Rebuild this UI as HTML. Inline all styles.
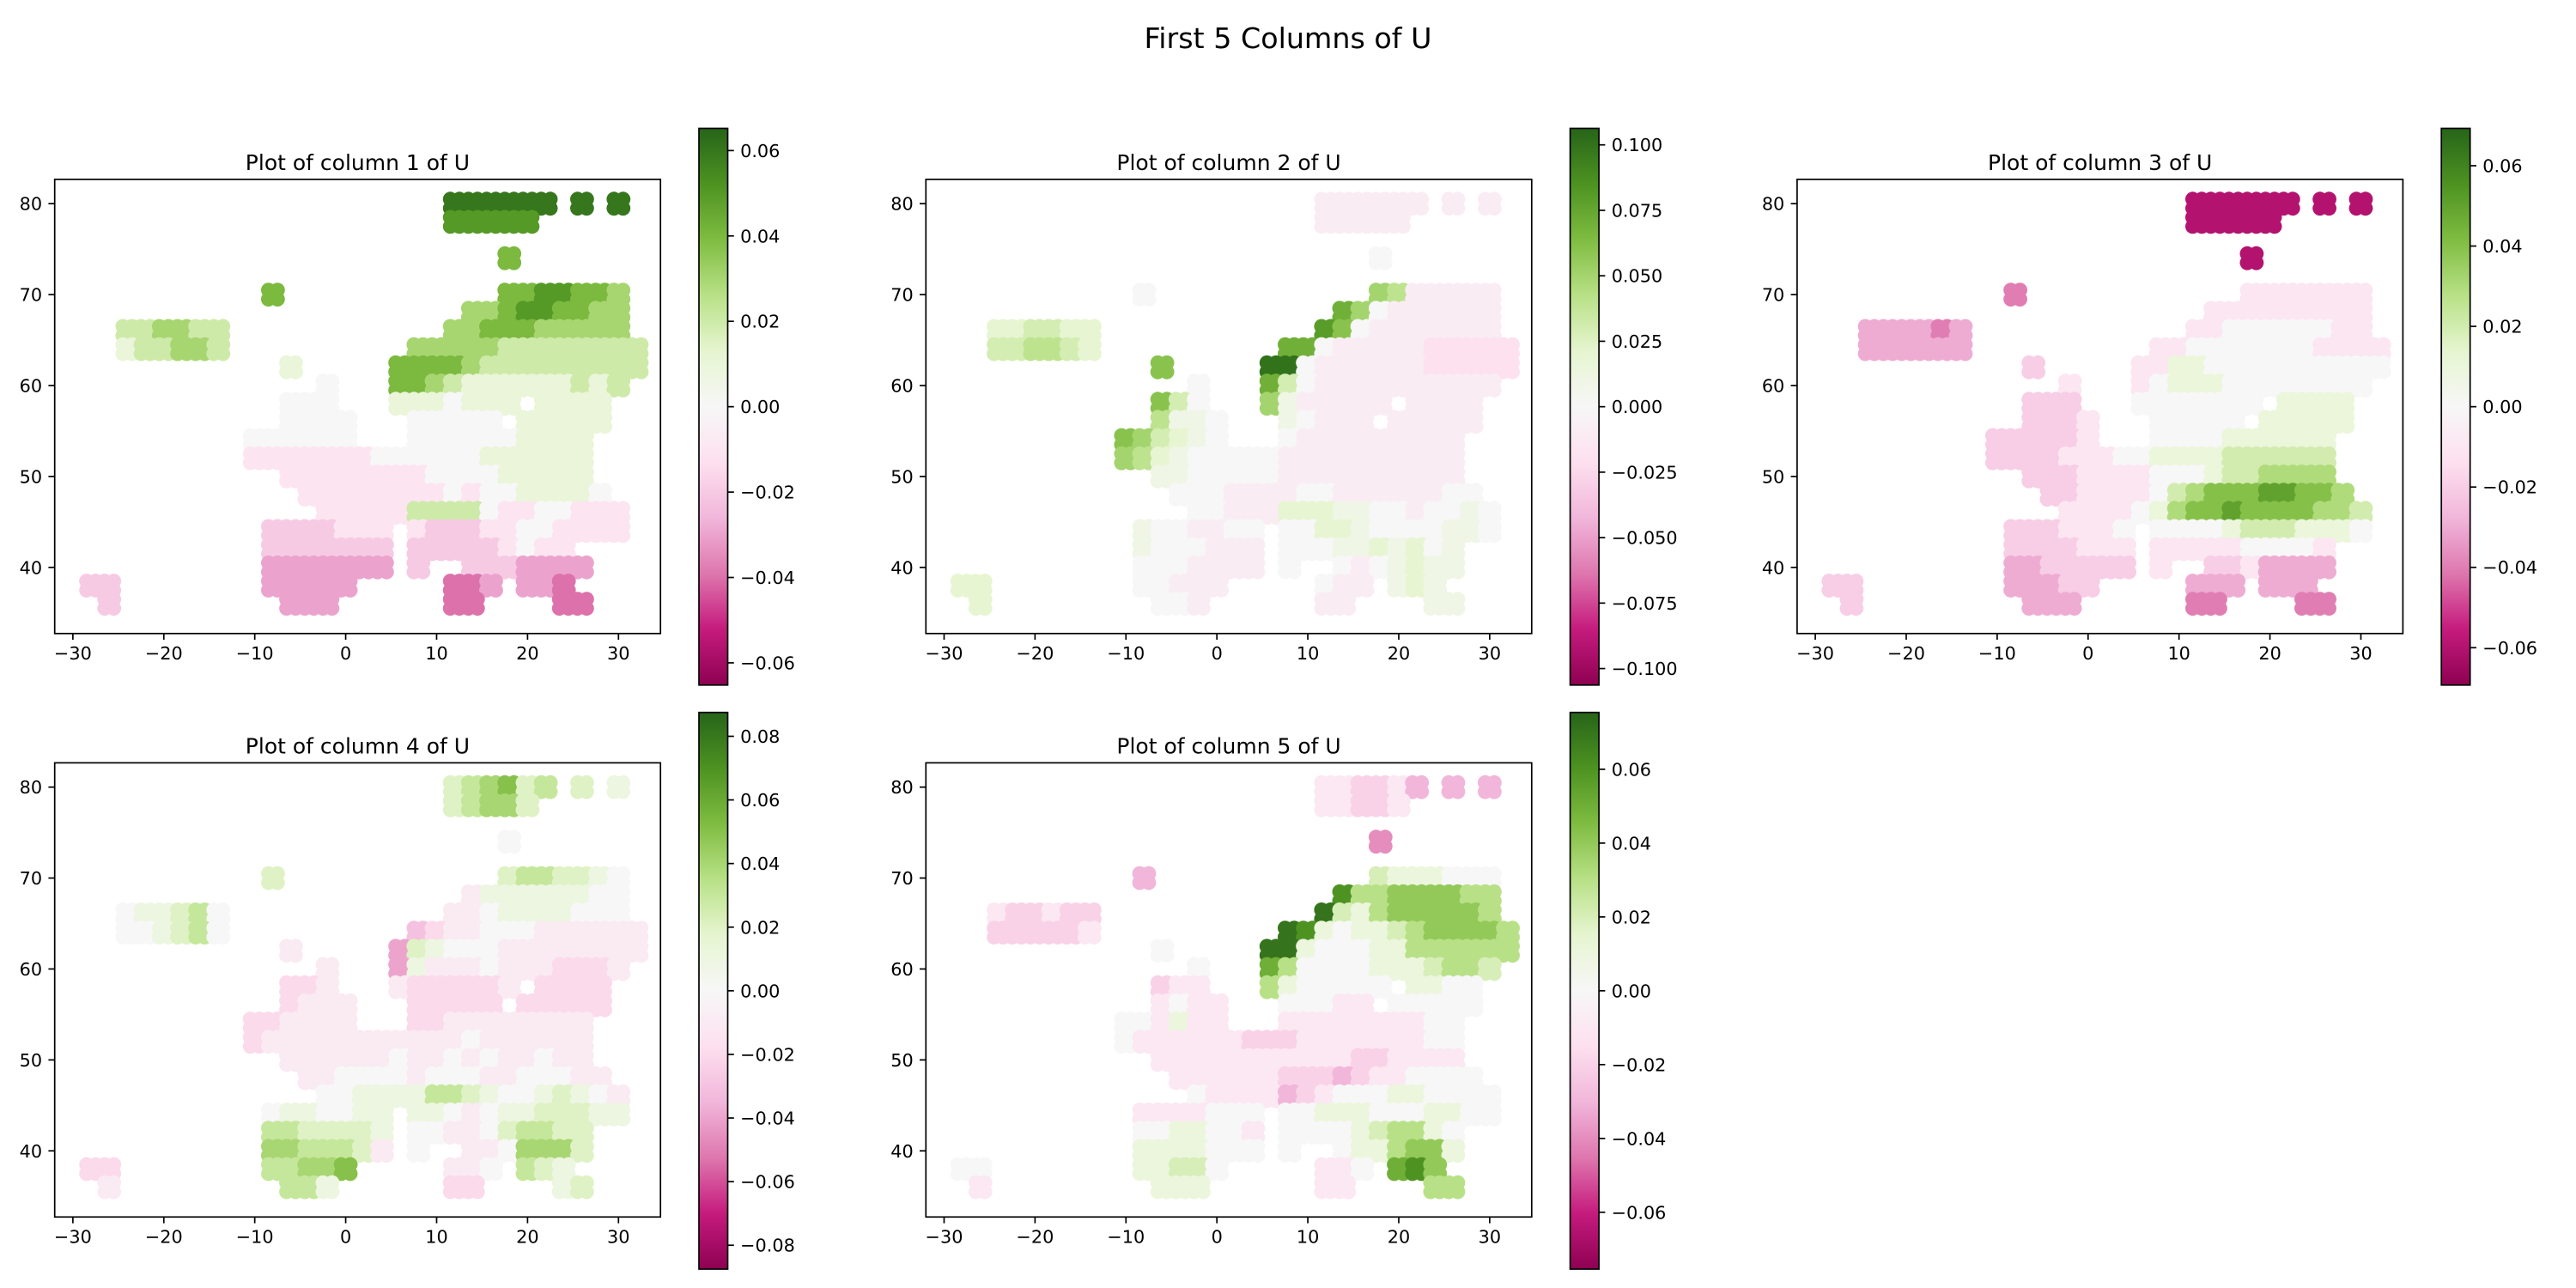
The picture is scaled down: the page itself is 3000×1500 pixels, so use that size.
<!DOCTYPE html>
<html><head><meta charset="utf-8"><title>First 5 Columns of U</title>
<style>
html,body{margin:0;padding:0;background:#fff;}
svg{display:block;font-family:"DejaVu Sans","Liberation Sans",sans-serif;}
</style></head>
<body>
<svg id="fig" xmlns="http://www.w3.org/2000/svg" width="3000" height="1500" viewBox="0 0 3000 1500">
<rect width="3000" height="1500" fill="#fff"/>
<text x="1500" y="56" font-size="33.3" text-anchor="middle" fill="#000">First 5 Columns of U</text>
</svg>
<script>
// ---- data ----
const lats = [80,78,76,74,72,70,68,66,64,62,60,58,56,54,52,50,48,46,44,42,40,38,36];
const lons = [-30,-28,-26,-24,-22,-20,-18,-16,-14,-12,-10,-8,-6,-4,-2,0,2,4,6,8,10,12,14,16,18,20,22,24,26,28,30,32];
// value code: letter 'k' = 0, each letter step = 0.01 ('a' = -0.10, 'u' = +0.10), '.' = no data
const col1Grid = [
".....................qqqqqq.q.q.",
".....................ppppp......",
"................................",
"........................o.......",
"................................",
"...........o............ooppoon.",
"......................nnoppoonn.",
"...mmnnmm............nnooonnnnn.",
"...lmmnnm..........nnnnnmmmmmmmm",
"............l.....oooonmmmmmmmmm",
"..............k...oonmllllllmlm.",
"............kkk...lllklll.llll..",
"............kkkk...kkkkk.lllll..",
"..........kkkkkk...kkkkkkllll...",
"..........jjjjjjjkkkkkkllllll...",
"............jjjjjjjjkkkklllll...",
".............jjjjjjjjkjkkllllk..",
"..............jjjjjmmmmkjjkkjjj.",
"...........iiiijjj.jiiijjkkjjjj.",
"...........iiiiiii.iiiiijkjj...",
"...........hhhhhhh.i..iiihhhh...",
".ii........hhhhh.....ggh.hhg....",
"..i.........hhh......gg....gg..."
];
const col2Grid = [
".....................jjjjjj.j.j.",
".....................jjjjj......",
"................................",
"........................k.......",
"................................",
"...........k............pojjjjj.",
"......................rpkjjjjjj.",
"...mmnnmm............sqkjjjjjjj.",
"...nnoonm..........rrkjjjjjiiiii",
"............q.....uukjjjjjjiiiii",
"..............k...rnkjjjjjjjjjj.",
"............qnk...pljjjjj.jjjj..",
"............ollk...lkjjj.jjjjj..",
"..........qpnmlk...kjjjjjjjjj...",
"..........pomlkkkkkjjjjjjjjjj...",
"............llkkkkkjjjjjjjjjj...",
".............kkkjjjjkkjjjjjjkk..",
"..............kkjjjmmmllkkjkklk.",
"...........lkkjjkk.kkmmlkkkkllk.",
"...........lkkkjjj.kkkllmlmkl...",
"...........kkkjjjj.k..kjklmll...",
".mm........kkjjj.....kjj.lml....",
"..m.........kkj......jj....ll..."
];
const col3Grid = [
".....................eeeeee.e.e.",
".....................eeeee......",
"................................",
"........................e.......",
"................................",
"...........g............jjjjjjj.",
"......................jjjjjjjjj.",
"...hhhhgh............jjkkkkkkjj.",
"...hhhhhh..........jjkkkkkkkjjjj",
"............i.....jjllkkkkkkkkkk",
"..............j...jklllkkkkkkkk.",
"............iii...kkkkkkk.llll..",
"............iiij...kkkkk.lllll..",
"..........iiiiij...kkkkllllll...",
"..........iiiijjjkkllllmmmmmm...",
"............iiijjjjkkklmmnnnn...",
".............iijjjjkmnoooppoon..",
"..............jjjjklnoopoooonnm.",
"...........iiijjjk.kkkklmmmlllk.",
"...........iiiijjj.jjjjjkkkkj...",
"...........hhiiiii.j..iijhhhh...",
".ii........hhhii.....hhh.hhh....",
"..i.........hhh......gg....gg..."
];
const col4Grid = [
".....................mnopmn.m.l.",
".....................mnoom......",
"................................",
"........................k.......",
"................................",
"...........m............mnnmmlk.",
"......................jllllllkk.",
"...kllmnk............jjkllllkkk.",
"...kklmnk..........hijjkkkjjjjjj",
"............j.....gmlkkkjjjjjjjj",
"..............j...gljjjkjjjiiij.",
"............iij...jiiiiij.iiii..",
"............ijjj...iiiii.iiiii..",
"..........iijjjj...iijjjjjjjj...",
"..........ijjjjjjjjjjjkjjjjjj...",
"............jjjjjjkjjkjkjjkjj...",
".............jjkkkkjkkkjjkkkjj..",
"..............kkllllnnmlkklmlkj.",
"...........kllkkll.llkjkllmmmll.",
"...........nnmmmml.kkjjkmnnmm...",
"...........oonnnmj.k..jjkooom...",
".ii........nnoop.....jjk.nml....",
"..j.........nnl......ii....lm..."
];
const col5Grid = [
".....................jjiijh.h.h.",
".....................jjiij......",
"................................",
"........................g.......",
"................................",
"...........h............mlllkkk.",
"......................qnnoooonn.",
"...jiijii............rmlnooooon.",
"...iiiiij..........rqlkllmnoooon",
"............k.....rrlkkkllnnnnnn",
"..............k...pnkkkklllmnnm.",
"............ijj...nlkkkkk.llkk..",
"............jkjj...kkkjj.kkkkk..",
"..........kkjljj...jjjjjjjjkk...",
"..........kjjjjjjiiijjjjjjjkk...",
"............jjjjjjjjjjjiijjjj...",
".............jjjjjjiiihijjkkkk..",
"..............kjjjjhijkkkllkkkk.",
"...........jjjjkkk.kklllkkkllkk.",
"...........kkllkkj.kkkklmnnlk...",
"...........llllkkk.k..kllnool...",
".kk........llmmk.....jjk.pqo....",
"..j.........lll......jj....nn..."
];
const panelTitles = ["Plot of column 1 of U","Plot of column 2 of U","Plot of column 3 of U","Plot of column 4 of U","Plot of column 5 of U"];
const colorLimits = [0.0652, 0.1063, 0.0693, 0.0875, 0.0754];
const xTicks = [-30,-20,-10,0,10,20,30];
const yTicks = [40,50,60,70,80];
const cbTicks1 = [0.06,0.04,0.02,0.00,-0.02,-0.04,-0.06];
const cbTicks2 = [0.100,0.075,0.050,0.025,0.000,-0.025,-0.050,-0.075,-0.100];
const cbTicks3 = [0.06,0.04,0.02,0.00,-0.02,-0.04,-0.06];
const cbTicks4 = [0.08,0.06,0.04,0.02,0.00,-0.02,-0.04,-0.06,-0.08];
const cbTicks5 = [0.06,0.04,0.02,0.00,-0.02,-0.04,-0.06];

// ---- rendering ----
const grids=[col1Grid,col2Grid,col3Grid,col4Grid,col5Grid];
const cbTicks=[cbTicks1,cbTicks2,cbTicks3,cbTicks4,cbTicks5];
const cbDecimals=[2,3,2,2,2];
const PIYG=["#8e0152","#c51b7d","#de77ae","#f1b6da","#fde0ef","#f7f7f7","#e6f5d0","#b8e186","#7fbc41","#4d9221","#276419"];
const NS="http://www.w3.org/2000/svg";
const svg=document.getElementById('fig');
function mk(tag,attrs,parent){const e=document.createElementNS(NS,tag);for(const k in attrs)e.setAttribute(k,attrs[k]);(parent||svg).appendChild(e);return e;}
function hex(h){return [parseInt(h.substr(1,2),16),parseInt(h.substr(3,2),16),parseInt(h.substr(5,2),16)];}
const PC=PIYG.map(hex);
function cmap(t){t=Math.max(0,Math.min(1,t));const s=t*10;const i=Math.min(9,Math.floor(s));const f=s-i;const a=PC[i],b=PC[i+1];
  return "rgb("+[0,1,2].map(k=>Math.round(a[k]+(b[k]-a[k])*f)).join(",")+")";}
function decode(ch){return (ch.charCodeAt(0)-107)*0.01;}
function fmt(v,d){let s=Math.abs(v).toFixed(d);return (v<0?"\u2212":"")+s;}

const AX_L0=63.7, AX_T0=208.9, DX=1014.6, DY=679.5, W=705.5, H=528.9;
const XMIN=-32.0, YMAX=82.67, PPD=10.59;
const TL=7.3, SW=1.7, TFS=20.8;
const defs=mk('defs',{});
const grad=mk('linearGradient',{id:'piyg',x1:0,y1:1,x2:0,y2:0},defs);
PIYG.forEach((c,i)=>mk('stop',{offset:(i/10),'stop-color':c},grad));

for(let p=0;p<5;p++){
  const c=p%3, r=Math.floor(p/3);
  const L=AX_L0+DX*c, T=AX_T0+DY*r;
  const xs=lon=>L+(lon-XMIN)*PPD;
  const ys=lat=>T+(YMAX-lat)*PPD;
  const vmax=colorLimits[p];
  const g=mk('g',{});
  
  
  const title=mk('text',{x:L+W/2,y:T-11,'font-size':25,'text-anchor':'middle',fill:'#000'},g);
  
  
  title.textContent=panelTitles[p];
  const clipId='clip'+p;
  const cp=mk('clipPath',{id:clipId},defs);mk('rect',{x:L,y:T,width:W,height:H},cp);
  const pts=mk('g',{'clip-path':'url(#'+clipId+')'},g);
  
  
  const grid=grids[p];
  for(let j=0;j<lats.length;j++){
    const row=grid[j]||"";
    for(let i=0;i<lons.length;i++){
      const ch=row[i];
      if(!ch||ch==='.')continue;
      const v=decode(ch);
      const col=cmap((v/vmax+1)/2);
      for(const dl of [0.5,-0.5]) for(const dn of [-0.5,0.5]){
        const dot=mk('circle',{cx:xs(lons[i]+dn).toFixed(1),cy:ys(lats[j]+dl).toFixed(1),r:8.6,fill:col},pts);
        
        
      }
    }
  }
  const frame=mk('rect',{x:L,y:T,width:W,height:H,fill:'none',stroke:'#000','stroke-width':SW},g);
  
  
  xTicks.forEach(v=>{
    const x=xs(v);
    mk('line',{x1:x,y1:T+H,x2:x,y2:T+H+TL,stroke:'#000','stroke-width':SW},g);
    const t=mk('text',{x:x,y:T+H+30,'font-size':TFS,'text-anchor':'middle',fill:'#000'},g);
    
    
    t.textContent=fmt(v,0);
  });
  yTicks.forEach(v=>{
    const y=ys(v);
    mk('line',{x1:L,y1:y,x2:L-TL,y2:y,stroke:'#000','stroke-width':SW},g);
    const t=mk('text',{x:L-14.6,y:y+7.5,'font-size':TFS,'text-anchor':'end',fill:'#000'},g);
    
    
    t.textContent=fmt(v,0);
  });
  const cx=L+750.3, cw=33.5, ct=149.5+680.2*r, cb=797.8+680.2*r;
  const bar=mk('rect',{x:cx,y:ct,width:cw,height:cb-ct,fill:'url(#piyg)',stroke:'#000','stroke-width':SW},g);
  
  
  const cy=v=>cb-(v+vmax)/(2*vmax)*(cb-ct);
  cbTicks[p].forEach(v=>{
    const y=cy(v);
    mk('line',{x1:cx+cw,y1:y,x2:cx+cw+TL,y2:y,stroke:'#000','stroke-width':SW},g);
    const t=mk('text',{x:cx+cw+14.6,y:y+7.5,'font-size':TFS,fill:'#000'},g);
    
    
    t.textContent=fmt(v,cbDecimals[p]);
  });
}
</script>
</body></html>
